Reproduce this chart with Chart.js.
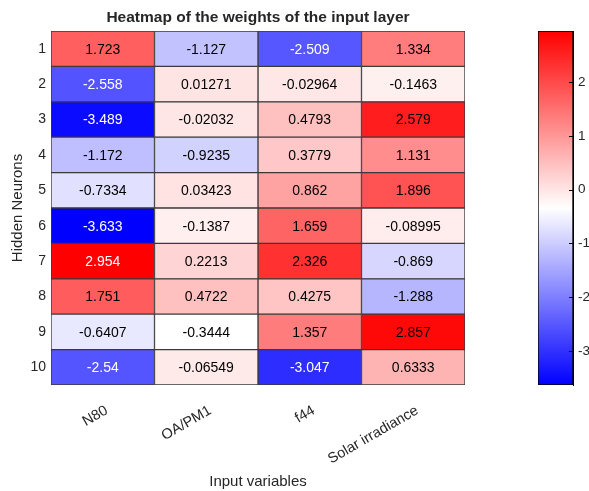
<!DOCTYPE html>
<html>
<head>
<meta charset="utf-8">
<script src="https://cdn.jsdelivr.net/npm/chart.js@4"></script>
<style>
  html, body { margin: 0; padding: 0; background: #fff; }
  #wrap { position: relative; width: 589px; height: 491px; }
  #main { position: absolute; left: 0; top: 0; }
  #bar { position: absolute; left: 520px; top: 0; }
</style>
</head>
<body>
<div id="wrap">
  <canvas id="main" width="589" height="491"></canvas>
  <canvas id="bar" width="69" height="491"></canvas>
</div>
<script>
// data
const neurons = ["1", "2", "3", "4", "5", "6", "7", "8", "9", "10"];
const variables = ["N80", "OA/PM1", "f44", "Solar irradiance"];
const n80 = [1.723, -2.558, -3.489, -1.172, -0.7334, -3.633, 2.954, 1.751, -0.6407, -2.54];
const oaPm1 = [-1.127, 0.01271, -0.02032, -0.9235, 0.03423, -0.1387, 0.2213, 0.4722, -0.3444, -0.06549];
const f44 = [-2.509, -0.02964, 0.4793, 0.3779, 0.862, 1.659, 2.326, 0.4275, 1.357, -3.047];
const solar = [1.334, -0.1463, 2.579, 1.131, 1.896, -0.08995, -0.869, -1.288, 2.857, 0.6333];
const colorbarTicks = [-3, -2, -1, 0, 1, 2];

const columns = [n80, oaPm1, f44, solar];
const allVals = columns.flat();
const vMin = Math.min(...allVals);
const vMax = Math.max(...allVals);

// blue - white - red, white in the middle of the range
function cellColor(v) {
    const t = (v - vMin) / (vMax - vMin);
    let r, g, b;
    if (t < 0.5) {
        const f = t / 0.5;
        r = 255 * f; g = 255 * f; b = 255;
    } else {
        const f = (t - 0.5) / 0.5;
        r = 255; g = 255 * (1 - f); b = 255 * (1 - f);
    }
    return "rgb(" + Math.round(r) + "," + Math.round(g) + "," + Math.round(b) + ")";
}

function textColor(v) {
    return (v < -2 || v > 2.9) ? "#ffffff" : "#000000";
}

const txt = "#262626";
const fam = "'Liberation Sans', Arial, sans-serif";
Chart.defaults.font.family = fam;
Chart.defaults.color = txt;

// title over the cells + the values inside them
const cellLabels = {
    id: "cellLabels",
    afterDatasetsDraw(chart) {
        const ctx = chart.ctx;
        ctx.save();
        ctx.font = "14px " + fam;
        ctx.textAlign = "center";
        ctx.textBaseline = "middle";
        chart.data.datasets.forEach((ds, di) => {
            const meta = chart.getDatasetMeta(di);
            meta.data.forEach((el, i) => {
                const v = columns[di][i];
                const p = el.getCenterPoint();
                ctx.fillStyle = textColor(v);
                ctx.fillText(String(v), p.x, p.y + 1);
            });
        });
        const a = chart.chartArea;
        ctx.font = "bold 15.5px " + fam;
        ctx.fillStyle = txt;
        ctx.fillText("Heatmap of the weights of the input layer", (a.left + a.right) / 2, 18);
        ctx.restore();
    }
};

const datasets = variables.map((name, c) => ({
    label: name,
    data: neurons.map(() => [c, c + 1]),
    backgroundColor: columns[c].map(cellColor),
    borderColor: "#3a3a3a",
    borderWidth: 1,
    borderSkipped: false,
    barPercentage: 1,
    categoryPercentage: 1,
    grouped: false
}));

new Chart(document.getElementById("main").getContext("2d"), {
    type: "bar",
    data: { labels: neurons, datasets: datasets },
    options: {
        indexAxis: "y",
        responsive: false,
        animation: false,
        layout: { padding: { left: 0, right: 124, top: 31, bottom: 0 } },
        plugins: {
            legend: { display: false },
            tooltip: { enabled: false },
            title: { display: false }
        },
        scales: {
            x: {
                type: "linear",
                min: 0,
                max: 4,
                grid: { display: false },
                border: { display: false },
                afterBuildTicks: (axis) => {
                    axis.ticks = variables.map((v, i) => ({ value: i + 0.5 }));
                },
                afterFit: (axis) => { axis.height = 106; },
                ticks: {
                    autoSkip: false,
                    maxRotation: 30,
                    minRotation: 30,
                    padding: 9,
                    labelOffset: 4,
                    font: { size: 14.5 },
                    callback: (v) => variables[Math.floor(v)]
                },
                title: {
                    display: true,
                    text: "Input variables",
                    font: { size: 15 },
                    padding: { top: 1, bottom: 0 }
                }
            },
            y: {
                grid: { display: false, drawTicks: false },
                border: { display: false },
                afterFit: (axis) => { axis.width = 51; },
                ticks: { font: { size: 14 }, padding: 5 },
                title: {
                    display: true,
                    text: "Hidden Neurons",
                    font: { size: 15 },
                    padding: { top: 9, bottom: 0 }
                }
            }
        }
    },
    plugins: [cellLabels]
});

// short tick marks pointing into the colour bar
const innerTicks = {
    id: "innerTicks",
    afterDraw(chart) {
        const ctx = chart.ctx;
        const y = chart.scales.y;
        const a = chart.chartArea;
        ctx.save();
        ctx.strokeStyle = "#000";
        ctx.lineWidth = 1;
        y.ticks.forEach((t) => {
            const py = Math.round(y.getPixelForValue(t.value)) + 0.5;
            ctx.beginPath();
            ctx.moveTo(a.right - 4, py);
            ctx.lineTo(a.right, py);
            ctx.stroke();
        });
        ctx.restore();
    }
};

new Chart(document.getElementById("bar").getContext("2d"), {
    type: "bar",
    data: {
        labels: [""],
        datasets: [{
            data: [[vMin, vMax]],
            backgroundColor: (ctx) => {
                const area = ctx.chart.chartArea;
                if (!area) return "#fff";
                const g = ctx.chart.ctx.createLinearGradient(0, area.bottom, 0, area.top);
                g.addColorStop(0, "rgb(0,0,255)");
                g.addColorStop(0.5, "rgb(255,255,255)");
                g.addColorStop(1, "rgb(255,0,0)");
                return g;
            },
            borderColor: "#000",
            borderWidth: 1,
            borderSkipped: false,
            barPercentage: 1,
            categoryPercentage: 1
        }]
    },
    options: {
        responsive: false,
        animation: false,
        layout: { padding: { left: 18, right: 0, top: 31, bottom: 106 } },
        plugins: { legend: { display: false }, tooltip: { enabled: false } },
        scales: {
            x: { display: false },
            y: {
                position: "right",
                min: vMin,
                max: vMax,
                afterBuildTicks: (axis) => {
                    axis.ticks = colorbarTicks.map((v) => ({ value: v }));
                },
                afterFit: (axis) => { axis.width = 16; },
                grid: { drawOnChartArea: false, drawTicks: false },
                border: { display: true, color: "#000" },
                ticks: { font: { size: 13.5 }, padding: 5, color: txt }
            }
        }
    },
    plugins: [innerTicks]
});
</script>
</body>
</html>
